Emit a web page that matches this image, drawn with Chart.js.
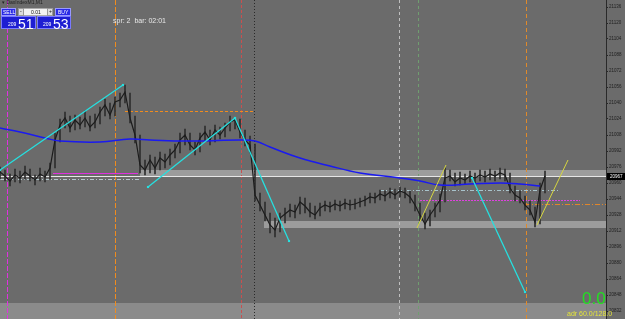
<!DOCTYPE html>
<html>
<head>
<meta charset="utf-8">
<script src="https://cdn.jsdelivr.net/npm/chart.js@4.4.1/dist/chart.umd.min.js"></script>
<style>
body{margin:0;background:#6b6b6b;}
#wrap{position:relative;width:625px;height:319px;overflow:hidden;font-family:"Liberation Sans",Arial,sans-serif;}
#chart{position:absolute;left:0;top:0;}
.t{position:absolute;white-space:nowrap;line-height:1;}
.box{position:absolute;box-sizing:border-box;}
</style>
</head>
<body>
<div id="wrap">
<canvas id="chart" width="625" height="319"></canvas>
<div class="t" style="left:2px;top:0px;font-size:5px;color:#222;">&#9662; DaxIndexM1,M1</div>
<!-- one-click trading panel -->
<div class="box" style="left:1px;top:8px;width:15px;height:8px;background:#2b2be6;border:1px solid #9a9aff;"></div>
<div class="t" style="left:3px;top:9.5px;font-size:5px;color:#fff;">SELL</div>
<div class="box" style="left:18px;top:8px;width:35px;height:8px;background:#f2f2f2;border:1px solid #aaa;"></div>
<div class="box" style="left:18px;top:8px;width:6px;height:8px;background:#ddd;border:1px solid #999;"></div>
<div class="box" style="left:47px;top:8px;width:6px;height:8px;background:#ddd;border:1px solid #999;"></div>
<div class="t" style="left:20px;top:9px;font-size:5px;color:#111;">-</div>
<div class="t" style="left:49px;top:9px;font-size:5px;color:#111;">+</div>
<div class="t" style="left:31px;top:9.5px;font-size:5px;color:#111;">0.01</div>
<div class="box" style="left:55px;top:8px;width:16px;height:8px;background:#2b2be6;border:1px solid #9a9aff;"></div>
<div class="t" style="left:58px;top:9.5px;font-size:5px;color:#fff;">BUY</div>
<div class="box" style="left:1px;top:16px;width:35px;height:13px;background:#1e1ed2;border:1px solid #7a7aff;"></div>
<div class="t" style="left:8px;top:22px;font-size:5px;color:#fff;">209</div>
<div class="t" style="left:18px;top:16.5px;font-size:14px;color:#fff;">51</div>
<div class="box" style="left:37px;top:16px;width:34px;height:13px;background:#1e1ed2;border:1px solid #7a7aff;"></div>
<div class="t" style="left:43px;top:22px;font-size:5px;color:#fff;">209</div>
<div class="t" style="left:53px;top:16.5px;font-size:14px;color:#fff;">53</div>
<div class="t" style="left:113px;top:17px;font-size:7px;color:#e8e8e8;">spr: 2&nbsp; bar: 02:01</div>
<div class="t" style="left:582px;top:290px;font-size:17px;color:#22e022;">0.0</div>
<div class="t" style="left:567px;top:309.5px;font-size:7px;color:#e4e43a;">adr 60.0/128.0</div>
</div>
<script>
// M1 bars, sampled one every 5 px of the strip (x = bar number)
var closes = [20971,20967,20962,20968,20965,20971,20967,20963,20969,20966,
  20975,21003,21018,21025,21015,21023,21018,21025,21016,21021,
  21031,21038,21028,21041,21043,21051,21025,21008,20978,20973,
  20983,20975,20985,20981,20988,20993,21003,21008,20998,20993,
  21005,21011,21003,21013,21008,21015,21021,21023,21011,21003,
  20998,20948,20938,20928,20918,20913,20925,20929,20933,20931,
  20941,20937,20931,20928,20935,20938,20936,20939,20937,20940,
  20938,20939,20941,20943,20946,20945,20949,20947,20951,20948,
  20952,20950,20946,20938,20928,20919,20928,20935,20943,20965,
  20967,20961,20965,20963,20967,20965,20968,20966,20969,20967,
  20970,20968,20955,20948,20945,20938,20933,20921,20953,20967];
var highs = [20976,20973,20969,20974,20972,20977,20974,20968,20975,20972,
  20980,21010,21024,21031,21027,21028,21026,21032,21027,21029,
  21036,21044,21040,21046,21050,21058,21050,21027,21008,20983,
  20988,20986,20991,20989,20994,20999,21010,21014,21010,21001,
  21010,21017,21013,21018,21016,21020,21027,21025,21024,21013,
  21007,20999,20950,20941,20930,20925,20930,20935,20939,20938,
  20946,20945,20940,20937,20940,20942,20941,20943,20942,20944,
  20943,20944,20945,20947,20950,20950,20953,20952,20955,20954,
  20956,20955,20952,20948,20940,20930,20933,20940,20949,20975,
  20973,20970,20971,20969,20972,20970,20973,20972,20974,20972,
  20975,20974,20970,20957,20952,20947,20942,20936,20960,20972];
var lows = [20964,20962,20957,20961,20960,20964,20962,20958,20962,20961,
  20964,20975,21001,21015,21011,21013,21014,21016,21012,21015,
  21019,21027,21024,21027,21036,21040,21020,21000,20970,20968,
  20970,20969,20973,20975,20978,20985,20990,20998,20993,20988,
  20991,21002,20998,21001,21004,21006,21012,21014,21005,20997,
  20990,20942,20932,20922,20910,20906,20911,20920,20926,20925,
  20929,20930,20926,20924,20927,20932,20931,20933,20932,20934,
  20933,20934,20936,20937,20940,20940,20943,20942,20945,20944,
  20946,20945,20940,20932,20922,20914,20917,20926,20931,20941,
  20962,20957,20958,20959,20961,20960,20962,20961,20963,20962,
  20964,20962,20950,20942,20940,20933,20928,20916,20919,20950];

// slow moving average (blue)
var maBars = [0,4,9,12,20,26,30,36,40,48,51,54,60,66,72,80,84,88,94,100,104,108];
var maPrices = [21015,21011,21005,21002,21001,21004,21003,21002,21002,21003,21002,
  20996,20985,20977,20970,20965,20962,20958,20959,20960,20959,20957];

// hand-drawn trend lines: [bar, price] pairs
var cyanLines = [
  [[0,20973],[24.6,21058]],
  [[29.6,20956],[47,21025]],
  [[47,21025],[57.8,20902]],
  [[94.4,20965],[105,20851]]
];
var yellowLines = [
  [[83.4,20915],[89.2,20978]],
  [[107.4,20918],[113.6,20983]]
];

// supply/demand zones
var zoneFrom = [28,52.8,0];
var zoneLow = [20966,20915,20824];
var zoneHigh = [20973,20922,20840];

// horizontal levels
var levelPrice = [20964,20970,21032,20953,20943,20939];
var levelFrom = [0,10.6,25,76,84,105];
var levelTo = [28,27.6,50.6,112,116,121.2];

// session separators
var sessionBars = [1.4,23,48.2,50.8,79.8,83.6,105.2];

var bid = 20967;
var priceTicks = [21136,21120,21104,21088,21072,21056,21040,21024,21008,20992,
  20976,20960,20944,20928,20912,20896,20880,20864,20848,20832];

var levelStyle = [
  {c:'#b4c8cc', d:[4,2,1,2]},
  {c:'#e030e0', d:[]},
  {c:'#f08c1e', d:[3,2]},
  {c:'#a8c4cc', d:[4,2,1,2]},
  {c:'#e040e0', d:[2,1]},
  {c:'#e0862a', d:[5,2,1,2]}
];
var sessionStyle = [
  {c:'#e030e0', d:[5,2]},
  {c:'#f08c1e', d:[5,2]},
  {c:'#c85050', d:[3,2]},
  {c:'#2a2a2a', d:[1,2]},
  {c:'#c0c0c0', d:[3,3]},
  {c:'#6f9f6f', d:[3,3]},
  {c:'#e08a2a', d:[4,3]}
];

var overlay = {
  id: 'overlay',
  beforeDatasetsDraw: function (chart) {
    var ctx = chart.ctx, a = chart.chartArea, x = chart.scales.x, y = chart.scales.y;
    ctx.save();
    for (var i = 0; i < zoneFrom.length; i++) {
      ctx.fillStyle = i == 2 ? '#8b8b8b' : 'rgba(196,196,196,0.55)';
      var y1 = y.getPixelForValue(zoneHigh[i]), y2 = y.getPixelForValue(zoneLow[i]);
      var x1 = x.getPixelForValue(zoneFrom[i]);
      ctx.fillRect(x1, y1, a.right - x1, y2 - y1);
    }
    ctx.lineWidth = 1;
    for (var k = 0; k < sessionBars.length; k++) {
      var px = Math.round(x.getPixelForValue(sessionBars[k])) + 0.5;
      ctx.strokeStyle = sessionStyle[k].c;
      ctx.setLineDash(sessionStyle[k].d);
      ctx.beginPath();
      ctx.moveTo(px, a.top);
      ctx.lineTo(px, a.bottom);
      ctx.stroke();
    }
    for (var j = 0; j < levelPrice.length; j++) {
      var py = Math.round(y.getPixelForValue(levelPrice[j])) + 0.5;
      ctx.strokeStyle = levelStyle[j].c;
      ctx.setLineDash(levelStyle[j].d);
      ctx.beginPath();
      ctx.moveTo(x.getPixelForValue(levelFrom[j]), py);
      ctx.lineTo(x.getPixelForValue(levelTo[j]), py);
      ctx.stroke();
    }
    // bid line
    var by = Math.round(y.getPixelForValue(bid)) + 0.5;
    ctx.setLineDash([]);
    ctx.strokeStyle = '#e6e6e6';
    ctx.beginPath();
    ctx.moveTo(a.left, by);
    ctx.lineTo(a.right, by);
    ctx.stroke();
    ctx.restore();
  },
  afterDraw: function (chart) {
    var ctx = chart.ctx, a = chart.chartArea, y = chart.scales.y;
    var by = Math.round(y.getPixelForValue(bid));
    ctx.save();
    ctx.fillStyle = '#000';
    ctx.fillRect(a.right + 1, by - 3, 19, 7);
    ctx.fillStyle = '#fff';
    ctx.font = '4.5px "Liberation Sans"';
    ctx.textBaseline = 'middle';
    ctx.fillText(String(bid), a.right + 4, by + 0.5);
    ctx.restore();
  }
};

function pts(xs, ys) {
  return xs.map(function (v, i) { return {x: v, y: ys[i]}; });
}
var barIdx = closes.map(function (c, i) { return i; });
var datasets = [];
cyanLines.forEach(function (l) {
  datasets.push({type: 'line', data: l.map(function (p) { return {x: p[0], y: p[1]}; }),
    borderColor: '#26e0e0', borderWidth: 1.3, pointRadius: 1.5, pointStyle: 'rect',
    pointBackgroundColor: '#26e0e0', pointBorderWidth: 0, order: 1});
});
yellowLines.forEach(function (l) {
  datasets.push({type: 'line', data: l.map(function (p) { return {x: p[0], y: p[1]}; }),
    borderColor: '#d6d640', borderWidth: 1, pointRadius: 0, order: 1});
});
datasets.push({type: 'line', data: pts(maBars, maPrices), borderColor: '#1a1af0',
  borderWidth: 1.5, pointRadius: 0, tension: 0.4, order: 2});
datasets.push({type: 'line', data: pts(barIdx, closes), borderColor: '#1c1c1c',
  borderWidth: 1.2, pointRadius: 0, order: 3});
datasets.push({type: 'bar', data: barIdx.map(function (i) { return {x: i, y: [lows[i], highs[i]]}; }),
  backgroundColor: '#2e2e2e', barThickness: 1, order: 4});

new Chart(document.getElementById('chart'), {
  type: 'line',
  data: {datasets: datasets},
  options: {
    responsive: false,
    devicePixelRatio: 1,
    animation: false,
    layout: {padding: 0, autoPadding: false},
    plugins: {legend: {display: false}, tooltip: {enabled: false}},
    scales: {
      x: {type: 'linear', min: 0, max: 121.2, display: false, offset: false},
      y: {
        position: 'right', min: 20824, max: 21143,
        afterBuildTicks: function (s) { s.ticks = priceTicks.map(function (v) { return {value: v}; }); },
        afterFit: function (s) { s.width = 19; s.paddingTop = 0; s.paddingBottom = 0; },
        grid: {drawOnChartArea: false, color: '#262626', tickLength: 2},
        border: {color: '#2a2a2a', width: 1},
        ticks: {color: '#1e1e1e', padding: 1, font: {size: 4.5, family: 'Liberation Sans'},
          callback: function (v) { return String(v); }}
      }
    }
  },
  plugins: [overlay]
});
</script>
</body>
</html>
